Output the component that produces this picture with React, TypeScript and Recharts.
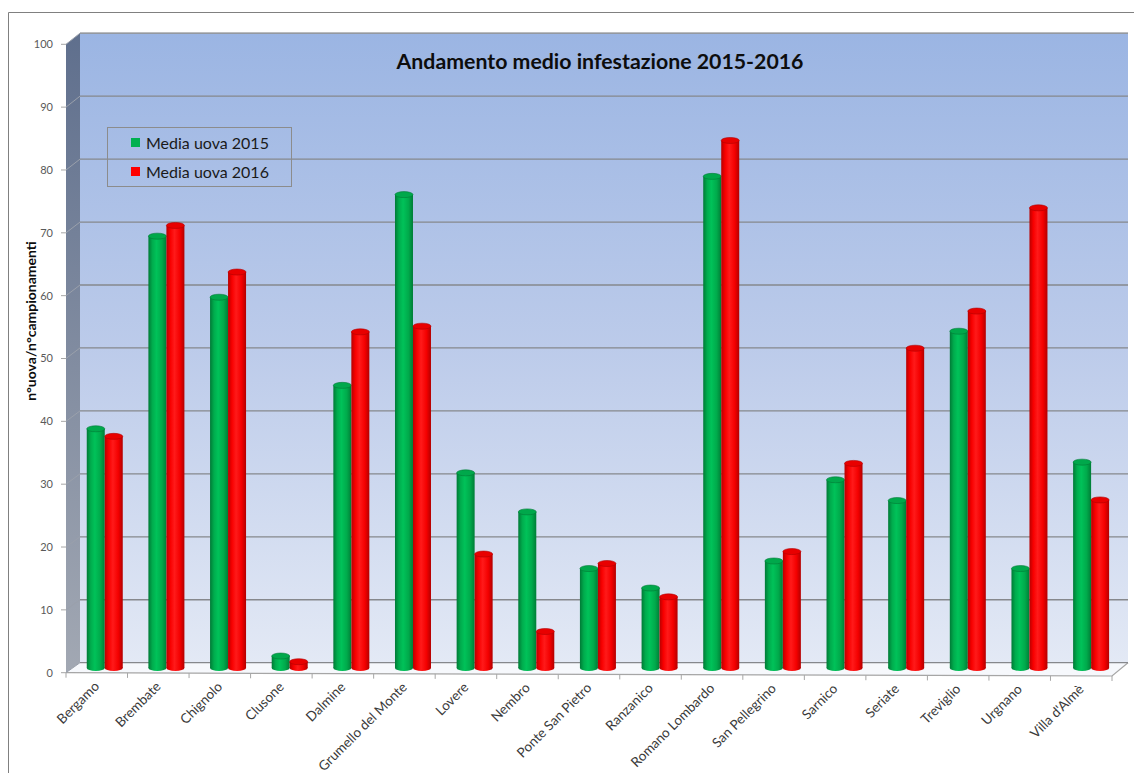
import React from 'react';
import { BarChart, Bar, XAxis, YAxis, CartesianGrid, Legend } from 'recharts';

const categories = [
  'Bergamo', 'Brembate', 'Chignolo', 'Clusone', 'Dalmine', 'Grumello del Monte', 'Lovere', 'Nembro',
  'Ponte San Pietro', 'Ranzanico', 'Romano Lombardo', 'San Pellegrino', 'Sarnico', 'Seriate',
  'Treviglio', 'Urgnano', "Villa d'Almè",
];
const media2015 = [38.0, 68.6, 58.9, 1.9, 44.9, 75.2, 31.0, 24.8, 15.8, 12.7, 78.1, 17.0, 29.9, 26.6, 53.5, 15.8, 32.7];
const media2016 = [36.8, 70.3, 62.9, 1.0, 53.4, 54.3, 18.1, 5.8, 16.6, 11.3, 83.8, 18.5, 32.5, 50.8, 56.7, 73.1, 26.7];
const yTicks = [0, 10, 20, 30, 40, 50, 60, 70, 80, 90, 100];
const seriesNames = ['Media uova 2015', 'Media uova 2016'];
const titleText = 'Andamento medio infestazione 2015-2016';
const yLabel = 'n°uova/n°campionamenti';

const data = categories.map((name, i) => ({ name, m2015: media2015[i], m2016: media2016[i] }));

const W = 1134;
const H = 773;
const PLOT_L = 73.5;
const PLOT_R = 1121.5;
const PLOT_T = 38.5;
const PLOT_B = 668;
// back wall offset from the bar plane
const BX = 6.5;
const BY = -5.3;
// front plane geometry
const F_L = 66;
const F_R = 1112;
const F_B_L = 672.7;
const F_B_R = 676;
const F_SPAN = 628.4;
const frontX = (x: number) => F_L + ((x - PLOT_L) * (F_R - F_L)) / (PLOT_R - PLOT_L);
const frontAxisY = (y: number) => F_B_L - ((PLOT_B - y) * F_SPAN) / (PLOT_B - PLOT_T);
const floorY = (fx: number) => F_B_L + ((fx - F_L) * (F_B_R - F_B_L)) / (F_R - F_L);
const FONT = 'Lato, "Open Sans", sans-serif';

const makeCylinder = (gradId: string, cap: string, edge: string) => (props: any) => {
  const { x, y, width, height } = props;
  if (!width || height == null || height <= 0) return null;
  const ry = Math.min(3, width / 5);
  const cx = x + width / 2;
  return (
    <g>
      <ellipse cx={cx} cy={y + height} rx={width / 2} ry={ry} fill={`url(#${gradId})`} />
      <rect x={x} y={y} width={width} height={height} fill={`url(#${gradId})`} />
      <ellipse cx={cx} cy={y} rx={width / 2} ry={ry} fill={cap} stroke={edge} strokeWidth={0.6} />
    </g>
  );
};

const greenShape = makeCylinder('gradGreen', '#00a84b', '#007a36');
const redShape = makeCylinder('gradRed', '#e80000', '#b00000');

const XTick = (props: any) => {
  const { x, payload, index } = props;
  const cx = payload && payload.coordinate != null ? payload.coordinate : x;
  const band = (PLOT_R - PLOT_L) / categories.length;
  const fcx = frontX(cx);
  const lx = frontX(cx - band / 2);
  const rx = frontX(cx + band / 2);
  const fy = floorY(fcx);
  const ax = fcx;
  const ay = fy + 11;
  return (
    <g>
      <line x1={lx} y1={floorY(lx)} x2={lx} y2={floorY(lx) + 5} stroke="#a6a6a6" strokeWidth={1} />
      {index === categories.length - 1 && (
        <line x1={rx} y1={floorY(rx)} x2={rx} y2={floorY(rx) + 5} stroke="#a6a6a6" strokeWidth={1} />
      )}
      <text
        x={ax}
        y={ay}
        dy="0.35em"
        textAnchor="end"
        transform={`rotate(-45 ${ax} ${ay})`}
        fontSize={13.5}
        fill="#3a3a3a"
        fontFamily={FONT}
      >
        {payload.value}
      </text>
    </g>
  );
};

const YTick = (props: any) => {
  const { y, payload } = props;
  const fy = frontAxisY(y);
  return (
    <g>
      <line x1={F_L - 5} y1={fy} x2={F_L} y2={fy} stroke="#a6a6a6" strokeWidth={1} />
      <text x={F_L - 13} y={fy} dy="0.35em" textAnchor="end" fontSize={11} fill="#595959" fontFamily={FONT}>
        {payload.value}
      </text>
    </g>
  );
};

const gridLine = (p: any) => {
  const k = p.key != null ? p.key : `h-${p.index}`;
  return (
    <g key={k}>
      <line x1={F_L} y1={frontAxisY(p.y1)} x2={p.x1 + BX} y2={p.y1 + BY} stroke="#9aa0ab" strokeWidth={1} />
      <line x1={p.x1 + BX} y1={p.y1 + BY} x2={p.x2 + BX} y2={p.y2 + BY} stroke="#86888c" strokeWidth={1.3} />
    </g>
  );
};

const LegendBox = (props: any) => {
  const payload = props.payload || [];
  return (
    <div
      style={{
        width: 185,
        height: 60,
        border: '1px solid #8c8c8c',
        boxSizing: 'border-box',
        paddingTop: 0,
        fontFamily: FONT,
      }}
    >
      {payload.map((item: any, i: number) => (
        <div key={i} style={{ display: 'flex', alignItems: 'center', height: 29, paddingLeft: 23 }}>
          <span style={{ width: 9, height: 9, background: item.color, display: 'inline-block', marginRight: 6 }} />
          <span style={{ fontSize: 16, color: '#1a1a1a' }}>{item.value}</span>
        </div>
      ))}
    </div>
  );
};

export default function App() {
  const backL = PLOT_L + BX;
  const backR = PLOT_R + BX;
  const backT = PLOT_T + BY;
  const backB = PLOT_B + BY;
  const frontT = frontAxisY(PLOT_T);
  return (
    <div style={{ position: 'absolute', left: 0, top: 0, width: W, height: H, background: '#fff', overflow: 'hidden' }}>
      <svg width={W} height={H} style={{ position: 'absolute', left: 0, top: 0 }}>
        <defs>
          <linearGradient id="gradWall" x1="0" y1="0" x2="0" y2="1">
            <stop offset="0%" stopColor="#9bb5e3" />
            <stop offset="50%" stopColor="#bccbea" />
            <stop offset="100%" stopColor="#e3e9f5" />
          </linearGradient>
          <linearGradient id="gradSide" x1="0" y1="0" x2="0" y2="1">
            <stop offset="0%" stopColor="#5f6f8d" />
            <stop offset="100%" stopColor="#a2a8b3" />
          </linearGradient>
          <linearGradient id="gradGreen" x1="0" y1="0" x2="1" y2="0">
            <stop offset="0%" stopColor="#007a36" />
            <stop offset="22%" stopColor="#00ac4d" />
            <stop offset="45%" stopColor="#00c259" />
            <stop offset="75%" stopColor="#00aa4b" />
            <stop offset="100%" stopColor="#007d37" />
          </linearGradient>
          <linearGradient id="gradRed" x1="0" y1="0" x2="1" y2="0">
            <stop offset="0%" stopColor="#b80000" />
            <stop offset="22%" stopColor="#f80000" />
            <stop offset="45%" stopColor="#ff1a1a" />
            <stop offset="75%" stopColor="#f40000" />
            <stop offset="100%" stopColor="#b30000" />
          </linearGradient>
        </defs>
        <line x1={8.5} y1={12.5} x2={W} y2={12.5} stroke="#808080" strokeWidth={1} />
        <line x1={8.5} y1={12.5} x2={8.5} y2={H} stroke="#808080" strokeWidth={1} />
        <rect x={backL} y={backT} width={backR - backL} height={backB - backT} fill="url(#gradWall)" />
        <line x1={backL} y1={backT} x2={backR} y2={backT} stroke="#c8cdd6" strokeWidth={1} />
        <polygon
          points={`${F_L},${frontT} ${backL},${backT} ${backL},${backB} ${F_L},${F_B_L}`}
          fill="url(#gradSide)"
        />
        <polygon
          points={`${F_L},${F_B_L} ${backL},${backB} ${backR},${backB} ${F_R},${F_B_R}`}
          fill="#f6f8fc"
        />
        <polyline
          points={`${F_L},${F_B_L} ${F_R},${F_B_R} ${backR},${backB}`}
          fill="none"
          stroke="#a6a6a6"
          strokeWidth={1.2}
        />
        <text
          x={600}
          y={62}
          dy="0.35em"
          textAnchor="middle"
          fontSize={21.3}
          fontWeight="bold"
          fill="#0d0d0d"
          fontFamily={FONT}
        >
          {titleText}
        </text>
        <text
          x={31}
          y={321}
          dy="0.35em"
          textAnchor="middle"
          transform="rotate(-90 31 321)"
          fontSize={14}
          fontWeight="bold"
          fill="#0d0d0d"
          fontFamily={FONT}
        >
          {yLabel}
        </text>
      </svg>
      <div style={{ position: 'absolute', left: 0, top: 0 }}>
        <BarChart
          width={W}
          height={H}
          data={data}
          margin={{ top: PLOT_T, right: W - PLOT_R, left: 0, bottom: 0 }}
          barCategoryGap="21.5%"
          barGap={0}
        >
          <CartesianGrid vertical={false} horizontal={gridLine} />
          <XAxis
            dataKey="name"
            height={H - PLOT_B}
            interval={0}
            axisLine={false}
            tickLine={false}
            tick={<XTick />}
          />
          <YAxis
            width={PLOT_L}
            domain={[0, 100]}
            ticks={yTicks}
            axisLine={false}
            tickLine={false}
            tick={<YTick />}
          />
          <Legend
            layout="vertical"
            align="center"
            verticalAlign="middle"
            wrapperStyle={{ left: 107, top: 127, width: 185, height: 60 }}
            content={<LegendBox />}
          />
          <Bar dataKey="m2015" name={seriesNames[0]} fill="#00b050" shape={greenShape} isAnimationActive={false} />
          <Bar dataKey="m2016" name={seriesNames[1]} fill="#ff0000" shape={redShape} isAnimationActive={false} />
        </BarChart>
      </div>
    </div>
  );
}
